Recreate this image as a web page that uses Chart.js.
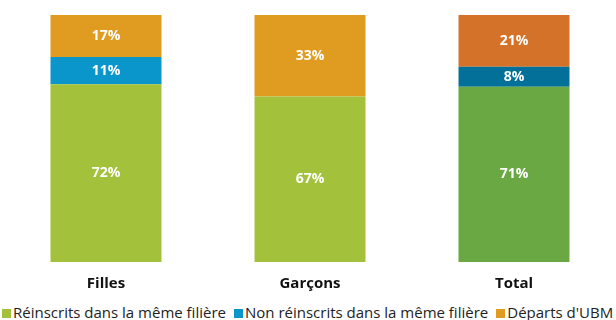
<!DOCTYPE html>
<html>
<head>
<meta charset="utf-8">
<script src="https://cdn.jsdelivr.net/npm/chart.js@4"></script>
<style>
  html, body { margin: 0; padding: 0; background: #fff; overflow: hidden; }
  #wrap { position: relative; width: 616px; height: 298px; }
  #legend {
    position: absolute; left: 2px; top: 302px; width: 700px;
    white-space: nowrap; font-family: "Open Sans", sans-serif; font-size: 15px; color: #222;
  }
  #legend span.item { margin-right: 8px; }
  #legend span.box { display: inline-block; width: 9px; height: 9px; margin-right: 2px; }
</style>
</head>
<body>
<div id="wrap"><canvas id="chart"></canvas></div>
<div id="legend"></div>
<script>
const categories = ['Filles', 'Garçons', 'Total'];
const seriesNames = ['Réinscrits dans la même filière', 'Non réinscrits dans la même filière', "Départs d'UBM"];
const reinscrits = [72, 67, 71];
const nonReinscrits = [11, 0, 8];
const departs = [17, 33, 21];

// light shades for Filles / Garçons, darker ones for Total
const greens = ['#A3C13A', '#A3C13A', '#6AA843'];
const blues = ['#0A96CB', '#0A96CB', '#03709A'];
const oranges = ['#E09B21', '#E09B21', '#D57229'];

// writes the percentage in the middle of each segment
const valueLabels = {
    id: 'valueLabels',
    afterDatasetsDraw(chart) {
        const ctx = chart.ctx;
        ctx.save();
        ctx.fillStyle = '#fff';
        ctx.font = 'bold 14px "Open Sans", sans-serif';
        ctx.textAlign = 'center';
        ctx.textBaseline = 'middle';
        chart.data.datasets.forEach((ds, i) => {
            chart.getDatasetMeta(i).data.forEach((bar, j) => {
                const v = ds.data[j];
                if (!v) return;
                const y = (bar.y + bar.base) / 2;
                ctx.fillText(v + '%', bar.x, y);
            });
        });
        ctx.restore();
    }
};

const ctx = document.getElementById('chart').getContext('2d');
const chart = new Chart(ctx, {
    type: 'bar',
    data: {
        labels: categories,
        datasets: [
            { label: seriesNames[0], data: reinscrits, backgroundColor: greens },
            { label: seriesNames[1], data: nonReinscrits, backgroundColor: blues },
            { label: seriesNames[2], data: departs, backgroundColor: oranges }
        ]
    },
    options: {
        responsive: true,
        maintainAspectRatio: false,
        animation: false,
        datasets: {
            bar: { barPercentage: 0.544, categoryPercentage: 1, borderWidth: 0 }
        },
        layout: { padding: { left: 4, right: 0, top: 15, bottom: 0 } },
        plugins: {
            legend: { display: false },
            tooltip: { enabled: false }
        },
        scales: {
            x: {
                stacked: true,
                grid: { display: false },
                border: { display: false },
                ticks: {
                    color: '#111',
                    font: { family: '"Open Sans", sans-serif', size: 15, weight: 'bold' },
                    padding: 5
                }
            },
            y: {
                stacked: true,
                display: false,
                min: 0,
                max: 100
            }
        }
    },
    plugins: [valueLabels]
});

// legend below the chart, running past the right edge
const legendEl = document.getElementById('legend');
const legendColors = [greens[0], blues[0], oranges[0]];
seriesNames.forEach((name, i) => {
    const item = document.createElement('span');
    item.className = 'item';
    const box = document.createElement('span');
    box.className = 'box';
    box.style.background = legendColors[i];
    item.appendChild(box);
    item.appendChild(document.createTextNode(name));
    legendEl.appendChild(item);
});
</script>
</body>
</html>
